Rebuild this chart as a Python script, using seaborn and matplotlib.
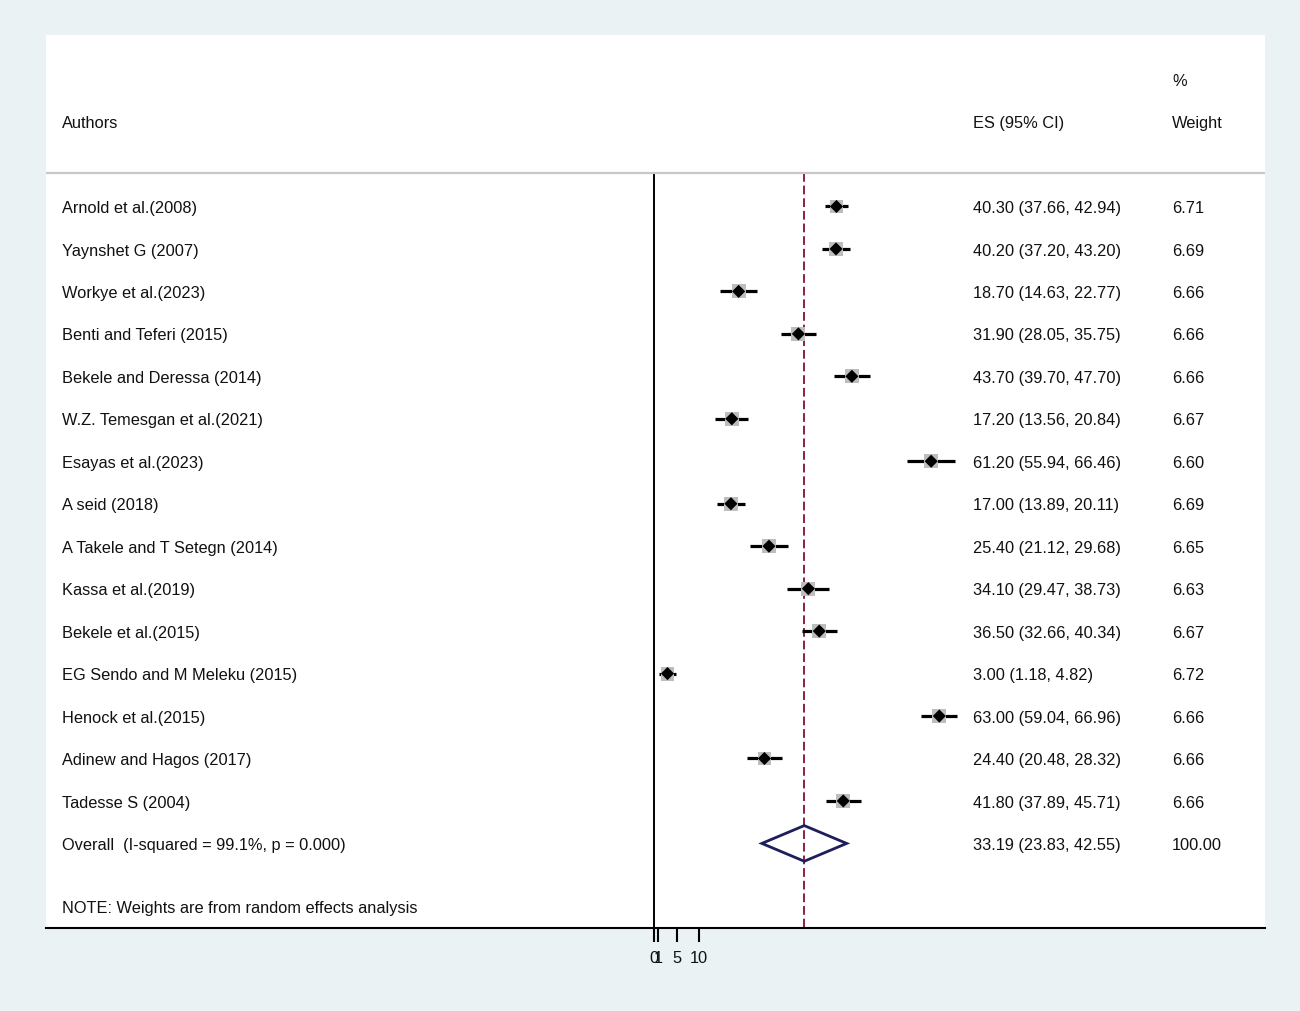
import numpy as np
import pandas as pd
import matplotlib
matplotlib.use("Agg")
import matplotlib.pyplot as plt
import matplotlib.transforms as mtransforms
import seaborn as sns

# study data
authors = [
    "Arnold et al.(2008)", "Yaynshet G (2007)", "Workye et al.(2023)",
    "Benti and Teferi (2015)", "Bekele and Deressa (2014)",
    "W.Z. Temesgan et al.(2021)", "Esayas et al.(2023)", "A seid (2018)",
    "A Takele and T Setegn (2014)", "Kassa et al.(2019)", "Bekele et al.(2015)",
    "EG Sendo and M Meleku (2015)", "Henock et al.(2015)",
    "Adinew and Hagos (2017)", "Tadesse S (2004)",
]
es = [40.30, 40.20, 18.70, 31.90, 43.70, 17.20, 61.20, 17.00, 25.40, 34.10,
      36.50, 3.00, 63.00, 24.40, 41.80]
lo = [37.66, 37.20, 14.63, 28.05, 39.70, 13.56, 55.94, 13.89, 21.12, 29.47,
      32.66, 1.18, 59.04, 20.48, 37.89]
hi = [42.94, 43.20, 22.77, 35.75, 47.70, 20.84, 66.46, 20.11, 29.68, 38.73,
      40.34, 4.82, 66.96, 28.32, 45.71]
weights = [6.71, 6.69, 6.66, 6.66, 6.66, 6.67, 6.60, 6.69, 6.65, 6.63,
           6.67, 6.72, 6.66, 6.66, 6.66]

overall_label = "Overall  (I-squared = 99.1%, p = 0.000)"
overall_es, overall_lo, overall_hi = 33.19, 23.83, 42.55
note = "NOTE: Weights are from random effects analysis"
xticks = [0, 1, 5, 10]

df = pd.DataFrame({"author": authors, "es": es, "lo": lo, "hi": hi, "w": weights})
df["row"] = np.arange(len(df))

sns.set_theme(style="white")
plt.rcParams["font.family"] = ["Liberation Sans", "DejaVu Sans"]

bg = "#EAF2F4"
fig = plt.figure(figsize=(13, 10.12), dpi=100, facecolor=bg)
ax = fig.add_axes([46 / 1300, 83.5 / 1012, 1219 / 1300, 893 / 1012])
ax.set_facecolor("white")

ax.set_xlim(-134.2, 134.9)
ax.set_ylim(16.98, -4.05)

fs = 11.8
n = len(df)
top_line = -0.777
dy = 0.025  # text baseline nudge

# reference lines
ax.plot([0, 0], [top_line, 16.98], color="black", lw=1.4, zorder=1)
ax.plot([overall_es, overall_es], [top_line, 16.98], color="#8B2142", lw=1.4,
        ls=(0, (4.5, 2)), zorder=1)

# confidence intervals
ax.hlines(df["row"], df["lo"], df["hi"], color="black", lw=2.3, zorder=2)
sns.scatterplot(data=df, x="es", y="row", marker="s", s=100, color="#BDBDBD",
                edgecolor="none", ax=ax, zorder=3, legend=False)
sns.scatterplot(data=df, x="es", y="row", marker="D", s=45, color="black",
                edgecolor="none", ax=ax, zorder=4, legend=False)

# overall diamond
oy = n
ax.fill([overall_lo, overall_es, overall_hi, overall_es, overall_lo],
        [oy, oy - 0.42, oy, oy + 0.42, oy],
        facecolor="none", edgecolor="#1E1E5C", lw=2.0, zorder=3)

# table text
tr = mtransforms.blended_transform_factory(ax.transAxes, ax.transData)
x_lab, x_es, x_w = 0.0131, 0.7605, 0.9237
txt = dict(transform=tr, fontsize=fs, va="center", color="#111111")
for i, r in df.iterrows():
    y = r["row"] + dy
    ax.text(x_lab, y, r["author"], **txt)
    ax.text(x_es, y, f"{r['es']:.2f} ({r['lo']:.2f}, {r['hi']:.2f})", **txt)
    ax.text(x_w, y, f"{r['w']:.2f}", **txt)

ax.text(x_lab, oy + dy, overall_label, **txt)
ax.text(x_es, oy + dy, f"{overall_es:.2f} ({overall_lo:.2f}, {overall_hi:.2f})", **txt)
ax.text(x_w, oy + dy, "100.00", **txt)
ax.text(x_lab, 16.48 + dy, note, **txt)

# header
ax.text(x_lab, -2.0 + dy, "Authors", **txt)
ax.text(x_es, -2.0 + dy, "ES (95% CI)", **txt)
ax.text(x_w, -2.0 + dy, "Weight", **txt)
ax.text(x_w, -2.99 + dy, "%", **txt)
ax.axhline(top_line, color="#C8C8C8", lw=1.6, zorder=1)

# axis
for side in ["top", "left", "right"]:
    ax.spines[side].set_visible(False)
ax.spines["bottom"].set_color("black")
ax.spines["bottom"].set_linewidth(1.5)
ax.set_yticks([])
ax.set_xticks(xticks)
ax.set_xticklabels([str(t) for t in xticks])
ax.tick_params(axis="x", direction="out", length=10, width=1.5, color="black",
               labelsize=fs, labelcolor="#111111", pad=6, bottom=True)
ax.set_xlabel("")
ax.set_ylabel("")

fig.savefig("out.png", dpi=100, facecolor=bg)
